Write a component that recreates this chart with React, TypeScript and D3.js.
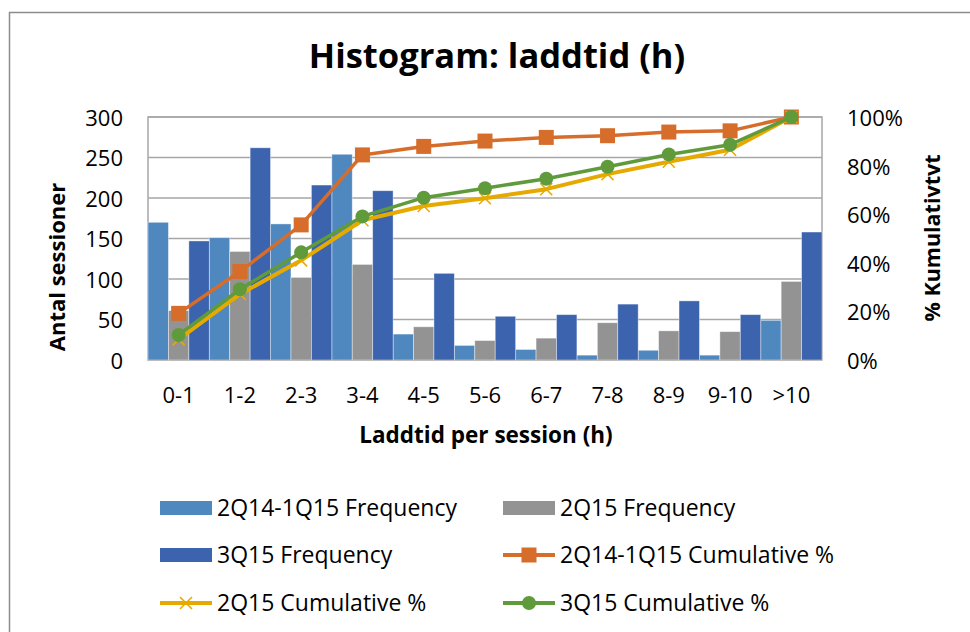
import React from 'react';
import * as d3 from 'd3';

const categories = ['0-1', '1-2', '2-3', '3-4', '4-5', '5-6', '6-7', '7-8', '8-9', '9-10', '>10'];
const freqA = [170, 151, 168, 254, 32, 18, 13, 6, 12, 6, 49];
const freqB = [61, 134, 102, 118, 41, 24, 27, 46, 36, 35, 97];
const freqC = [147, 262, 216, 209, 107, 54, 56, 69, 73, 56, 158];
const cumA = [19.2, 36.4, 55.6, 84.4, 87.9, 90.1, 91.6, 92.3, 93.8, 94.3, 100];
const cumB = [8.5, 27.1, 41.0, 57.5, 63.4, 66.6, 70.3, 76.5, 81.6, 86.5, 100];
const cumC = [10.3, 29.1, 44.3, 59.1, 66.8, 70.7, 74.6, 79.5, 84.6, 88.6, 100];
const leftTicks = [0, 50, 100, 150, 200, 250, 300];
const rightTicks = [0, 20, 40, 60, 80, 100];

const barSeries = [
  { name: '2Q14-1Q15 Frequency', values: freqA, color: '#4f87bf' },
  { name: '2Q15 Frequency', values: freqB, color: '#939393' },
  { name: '3Q15 Frequency', values: freqC, color: '#3c63ae' },
];
const lineSeries = [
  { name: '2Q14-1Q15 Cumulative %', values: cumA, color: '#d66d2b', marker: 'square' },
  { name: '2Q15 Cumulative %', values: cumB, color: '#e5a900', marker: 'x' },
  { name: '3Q15 Cumulative %', values: cumC, color: '#609b3b', marker: 'circle' },
];

const FONT = '"Open Sans", Lato, sans-serif';

function Marker({ type, x, y, color }: { type: string; x: number; y: number; color: string }) {
  if (type === 'square') return <rect x={x - 7.5} y={y - 7.5} width={15} height={15} fill={color} />;
  if (type === 'circle') return <circle cx={x} cy={y} r={7} fill={color} />;
  return (
    <path d={`M${x - 6},${y - 6}L${x + 6},${y + 6}M${x - 6},${y + 6}L${x + 6},${y - 6}`} stroke={color} strokeWidth={1.5} fill="none" />
  );
}

export default function App() {
  const left = 148, right = 822, top = 117, bottom = 360;
  const x = d3.scaleBand<string>().domain(categories).range([left, right]).padding(0);
  const xInner = d3.scaleBand<string>().domain(barSeries.map((s) => s.name)).range([0, x.bandwidth()]).padding(0);
  const yL = d3.scaleLinear().domain([0, 300]).range([bottom, top]);
  const yR = d3.scaleLinear().domain([0, 100]).range([bottom, top]);
  const line = d3.line<number>().x((_, i) => (x(categories[i]) as number) + x.bandwidth() / 2).y((d) => yR(d));

  const legendItems = [
    { kind: 'bar', s: barSeries[0], x: 160, y: 508 },
    { kind: 'bar', s: barSeries[1], x: 503, y: 508 },
    { kind: 'bar', s: barSeries[2], x: 160, y: 555 },
    { kind: 'line', s: lineSeries[0], x: 503, y: 555 },
    { kind: 'line', s: lineSeries[1], x: 160, y: 603 },
    { kind: 'line', s: lineSeries[2], x: 503, y: 603 },
  ];

  return (
    <div style={{ position: 'absolute', left: 0, top: 0 }}>
      <svg width={970} height={632} style={{ display: 'block', background: '#fff' }} fontFamily={FONT}>
        <rect x={9.5} y={12.5} width={1000} height={700} fill="#fff" stroke="#8c8c8c" strokeWidth={1.5} />
        <text x={497} y={68} textAnchor="middle" fontSize={34.5} fontWeight="bold" fill="#000">
          Histogram: laddtid (h)
        </text>

        {leftTicks.map((t) => (
          <g key={'g' + t}>
            <line x1={left} x2={right} y1={yL(t)} y2={yL(t)} stroke="#a6a6a6" strokeWidth={1.5} />
            <text x={123} y={yL(t) + 1} dy="0.36em" textAnchor="end" fontSize={22} fill="#000">
              {t}
            </text>
          </g>
        ))}
        {rightTicks.map((t) => (
          <text key={'r' + t} x={847} y={yR(t) + 1} dy="0.36em" textAnchor="start" fontSize={22} fill="#000">
            {t + '%'}
          </text>
        ))}
        <rect x={left} y={top} width={right - left} height={bottom - top} fill="none" stroke="#a6a6a6" strokeWidth={1.5} />

        {barSeries.map((s) =>
          s.values.map((v, i) => (
            <rect
              key={s.name + i}
              x={(x(categories[i]) as number) + (xInner(s.name) as number)}
              y={yL(v)}
              width={xInner.bandwidth()}
              height={bottom - yL(v)}
              fill={s.color}
              stroke="#ffffff"
              strokeOpacity={0.5}
              strokeWidth={0.8}
            />
          ))
        )}

        {lineSeries.map((s) => (
          <g key={s.name}>
            <path d={line(s.values) as string} fill="none" stroke={s.color} strokeWidth={s.marker === 'x' ? 4 : 3.5} strokeLinejoin="round" />
            {s.values.map((v, i) => (
              <Marker key={i} type={s.marker} x={(x(categories[i]) as number) + x.bandwidth() / 2} y={yR(v)} color={s.color} />
            ))}
          </g>
        ))}

        {categories.map((c) => (
          <text key={'c' + c} x={(x(c) as number) + x.bandwidth() / 2} y={403} textAnchor="middle" fontSize={22} fill="#000">
            {c}
          </text>
        ))}
        <text x={486} y={443} textAnchor="middle" fontSize={22.5} fontWeight="bold" fill="#000">
          Laddtid per session (h)
        </text>
        <text transform="translate(65,267) rotate(-90)" textAnchor="middle" fontSize={22} fontWeight="bold" fill="#000">
          Antal sessioner
        </text>
        <text transform="translate(940,238) rotate(-90)" textAnchor="middle" fontSize={21.5} fontWeight="bold" fill="#000">
          % Kumulativtvt
        </text>

        {legendItems.map((it) => (
          <g key={it.s.name}>
            {it.kind === 'bar' ? (
              <rect x={it.x} y={it.y - 7} width={52} height={14} fill={it.s.color} />
            ) : (
              <g>
                <line x1={it.x} x2={it.x + 52} y1={it.y} y2={it.y} stroke={it.s.color} strokeWidth={4} />
                <Marker type={(it.s as any).marker} x={it.x + 26} y={it.y} color={it.s.color} />
              </g>
            )}
            <text x={it.x + 57} y={it.y} dy="0.36em" fontSize={23} fill="#000">
              {it.s.name}
            </text>
          </g>
        ))}
      </svg>
    </div>
  );
}
